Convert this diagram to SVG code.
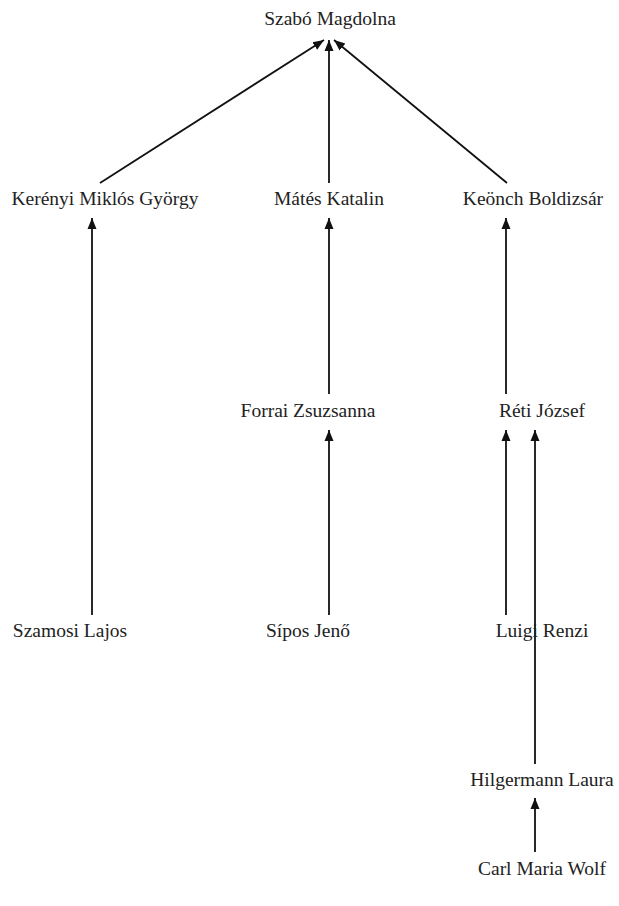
<svg xmlns="http://www.w3.org/2000/svg" width="619" height="906" viewBox="0 0 619 906">
<style>
text{font-family:"Liberation Serif","Times New Roman",serif;font-size:19.5px;fill:#222;text-anchor:middle}
.e{stroke:#111;stroke-width:1.8;fill:none;marker-end:url(#a)}
</style>
<defs>
<marker id="a" markerUnits="userSpaceOnUse" markerWidth="12" markerHeight="12" viewBox="0 0 12 12" refX="11" refY="6" orient="auto">
<path d="M0,1.5 L11,6 L0,10.5 Z" fill="#111"/>
</marker>
</defs>
<rect width="619" height="906" fill="#fff"/>
<g id="connectors">
<line class="e" x1="100" y1="183" x2="324" y2="40"/>
<line class="e" x1="329" y1="183" x2="329" y2="40"/>
<line class="e" x1="507" y1="183" x2="334" y2="40"/>
<line class="e" x1="92" y1="615" x2="92" y2="218"/>
<line class="e" x1="329" y1="394" x2="329" y2="218"/>
<line class="e" x1="329" y1="615" x2="329" y2="430"/>
<line class="e" x1="506" y1="394" x2="506" y2="218"/>
<line class="e" x1="506" y1="615" x2="506" y2="430"/>
<line class="e" x1="535" y1="764" x2="535" y2="430"/>
<line class="e" x1="535" y1="852" x2="535" y2="798"/>
</g>
<g id="szabo"><text x="330" y="25">Szabó Magdolna</text></g>
<g id="kerenyi"><text x="105" y="205">Kerényi Miklós György</text></g>
<g id="mates"><text x="329" y="205">Mátés Katalin</text></g>
<g id="keonch"><text x="533" y="205">Keönch Boldizsár</text></g>
<g id="forrai"><text x="308" y="417">Forrai Zsuzsanna</text></g>
<g id="reti"><text x="542" y="417">Réti József</text></g>
<g id="szamosi"><text x="70" y="637">Szamosi Lajos</text></g>
<g id="sipos"><text x="308" y="637">Sípos Jenő</text></g>
<g id="luigi"><text x="542" y="637">Luigi Renzi</text></g>
<g id="hilgermann"><text x="542" y="786">Hilgermann Laura</text></g>
<g id="carl"><text x="542" y="875">Carl Maria Wolf</text></g>
</svg>
